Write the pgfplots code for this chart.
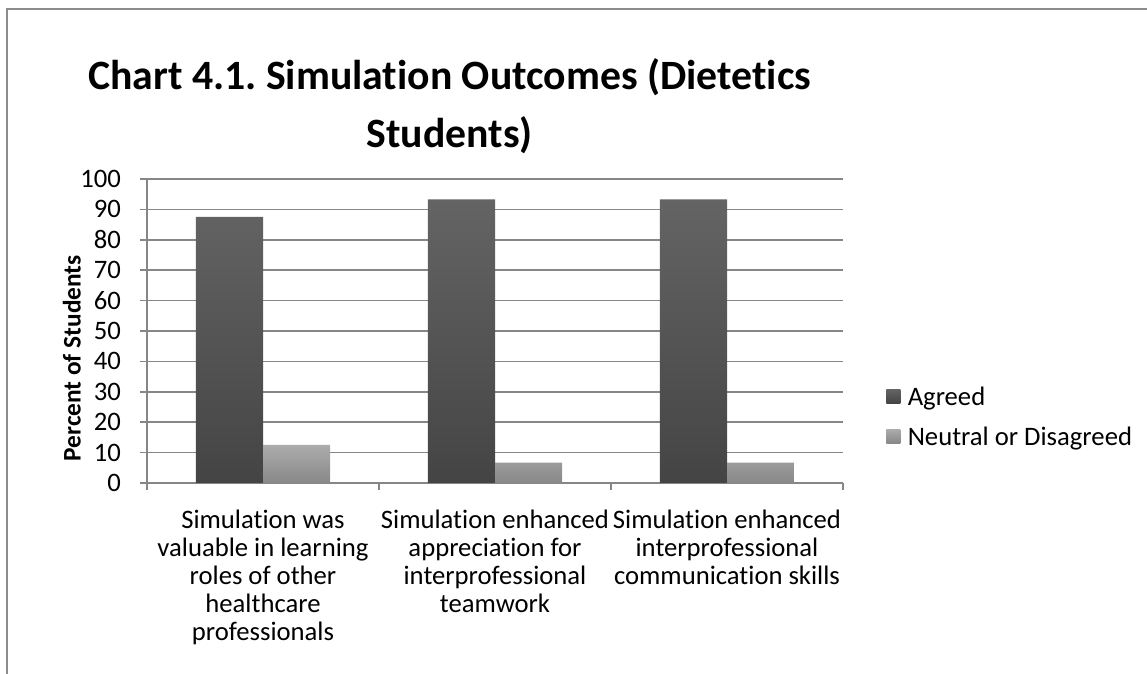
\documentclass[border=0pt]{standalone}
\usepackage{fontspec}
\setmainfont{Carlito}[Ligatures=NoCommon]
\usepackage{pgfplots}
\pgfplotsset{compat=1.18}
\frenchspacing
\definecolor{gridc}{RGB}{134,134,134}
\definecolor{borderc}{RGB}{140,140,140}
\definecolor{agtop}{RGB}{100,100,100}
\definecolor{agbot}{RGB}{68,68,68}
\definecolor{nttop}{RGB}{172,172,172}
\definecolor{ntbot}{RGB}{136,136,136}
\begin{document}
\begin{tikzpicture}
\useasboundingbox (0,0) rectangle (860.25pt,505.5pt);
\draw[borderc, line width=1.5pt] (5.25pt,0) -- (5.25pt,498.75pt) -- (860.25pt,498.75pt);
\node (t1) [anchor=base west, inner xsep=0pt, font=\fontsize{31.3}{38}\selectfont\bfseries] at (66pt,438pt) {Chart 4.1. Simulation Outcomes (Dietetics};
\node[anchor=base, inner xsep=0pt, font=\fontsize{31.3}{38}\selectfont\bfseries] at ([yshift=-43pt]t1.base) {Students)};
\begin{axis}[
  at={(110.25pt,143.25pt)}, anchor=south west,
  scale only axis, width=522pt, height=228pt,
  xmin=-0.5, xmax=2.5, ymin=0, ymax=100,
  ytick={0,10,...,100},
  ymajorgrids, grid style={gridc, line width=1.2pt},
  axis x line*=bottom, axis y line*=left,
  axis line style={gridc, line width=1.2pt, -},
  tick style={gridc, line width=1.2pt},
  tick align=outside, major tick length=5pt,
  xtick={-0.5,0.5,1.5,2.5}, xticklabels={},
  extra x ticks={0,1,2},
  extra x tick labels={{Simulation was\\valuable in learning\\roles of other\\healthcare\\professionals},{Simulation enhanced\\appreciation for\\interprofessional\\teamwork},{Simulation enhanced\\interprofessional\\communication skills}},
  extra x tick style={major tick length=0pt, grid=none, xticklabel style={align=center, font=\fontsize{20}{21}\selectfont, anchor=north, yshift=-16.5pt}},
  /pgf/number format/assume math mode=true,
  yticklabel style={font=\fontsize{20}{23}\selectfont, xshift=-11pt},
  ylabel={Percent of Students},
  ylabel style={font=\fontsize{19}{23}\selectfont\bfseries, at={(axis description cs:-0.108,0.41)}, anchor=center},
  legend style={draw=none, fill=none, at={(axis description cs:1.062,0.22)}, anchor=west, inner sep=0pt,
    font=\fontsize{20}{23}\selectfont, row sep=12pt,
    nodes={inner sep=2pt, text depth=0pt}},
  legend cell align=left,
  legend image code/.code={\path[#1,draw=none] (0pt,-5.25pt) rectangle (10.5pt,5.25pt); \path (0pt,0pt) -- (14pt,0pt);},
]
\addplot[ybar, bar width=0.289, bar shift=-0.1445, draw=none, top color=agtop, bottom color=agbot]
  coordinates {(0,87.5) (1,93.3) (2,93.3)};
\addplot[ybar, bar width=0.289, bar shift=0.1445, draw=none, top color=nttop, bottom color=ntbot]
  coordinates {(0,12.5) (1,6.7) (2,6.7)};
\legend{Agreed, Neutral or Disagreed}
\end{axis}
\end{tikzpicture}
\end{document}
